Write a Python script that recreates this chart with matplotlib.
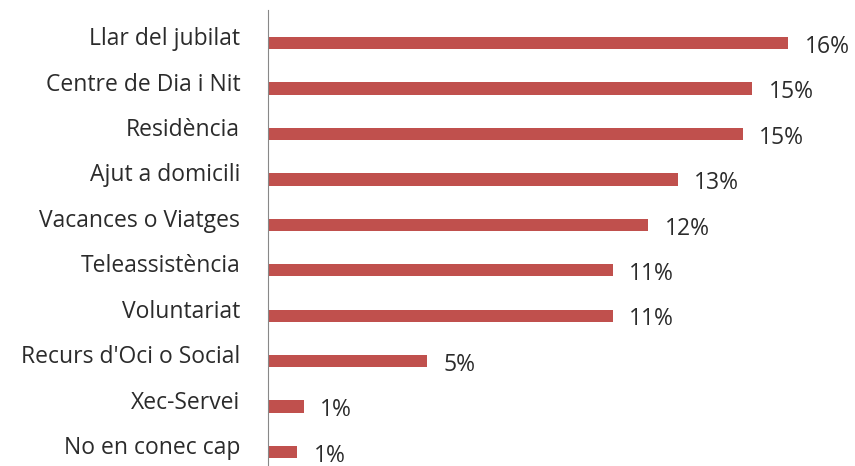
import matplotlib
matplotlib.use("Agg")
import matplotlib.pyplot as plt

# Dades llegides del gràfic (percentatges)
categories = ["Llar del jubilat", "Centre de Dia i Nit", "Residència", "Ajut a domicili",
              "Vacances o Viatges", "Teleassistència", "Voluntariat", "Recurs d'Oci o Social",
              "Xec-Servei", "No en conec cap"]
values = [16.0, 14.9, 14.6, 12.6, 11.7, 10.6, 10.6, 4.9, 1.1, 0.9]

plt.rcParams['font.family'] = ['Open Sans', 'DejaVu Sans']

fig = plt.figure(figsize=(8.55, 4.66), dpi=100)
ax = fig.add_axes([268 / 855, 0, 587 / 855, 456 / 466])

pos = list(range(len(categories)))
ax.barh(pos, values, height=0.27, color='#C0504D')

ax.set_xlim(0, 587 / 32.5)
ax.set_ylim(9.31, -0.73)

for i, (cat, v) in enumerate(zip(categories, values)):
    ax.annotate(cat, xy=(0, i), xytext=(-20, -1.5), textcoords='offset points',
                ha='right', va='baseline', fontsize=16.5, color='#2b2b2b')
    ax.annotate(f"{v:.0f}%", xy=(v, i), xytext=(12, -7), textcoords='offset points',
                ha='left', va='baseline', fontsize=16.5, color='#2b2b2b')

for s in ['top', 'right', 'bottom']:
    ax.spines[s].set_visible(False)
ax.spines['left'].set_color('#888888')
ax.set_xticks([])
ax.set_yticks([])

fig.savefig("out.png", dpi=100)
